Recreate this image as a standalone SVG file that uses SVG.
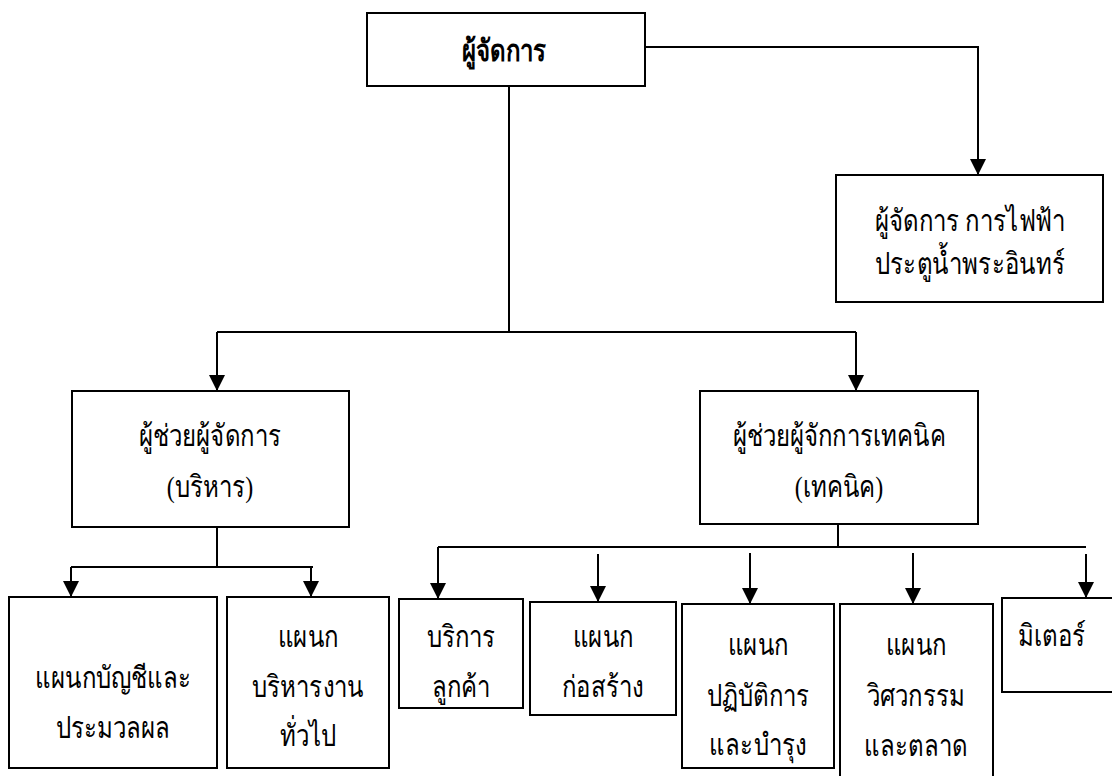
<svg xmlns="http://www.w3.org/2000/svg" width="1112" height="776" viewBox="0 0 1112 776">
<style>
.box{fill:#fff;stroke:#000;stroke-width:2}
.ln{fill:none;stroke:#000;stroke-width:2}
text{font-family:'Liberation Serif','DejaVu Serif',serif;font-size:24px;fill:#000;text-anchor:middle}
.b{font-weight:bold}
</style>
<defs>
<marker id="arr" markerUnits="userSpaceOnUse" markerWidth="16" markerHeight="16" refX="16" refY="8" orient="auto" viewBox="0 0 16 16">
<path d="M0,0 L16,8 L0,16 Z" fill="#000"/>
</marker>
</defs>
<rect width="1112" height="776" fill="#fff"/>
<g id="connectors">
<path class="ln" d="M645,47 H978 V175" marker-end="url(#arr)"/>
<path class="ln" d="M509,86 V332"/>
<path class="ln" d="M217,332 H856"/>
<path class="ln" d="M217,332 V391" marker-end="url(#arr)"/>
<path class="ln" d="M856,332 V391" marker-end="url(#arr)"/>
<path class="ln" d="M217,527 V567"/>
<path class="ln" d="M71,567 H313"/>
<path class="ln" d="M71,567 V597" marker-end="url(#arr)"/>
<path class="ln" d="M311,567 V597" marker-end="url(#arr)"/>
<path class="ln" d="M838,524 V547"/>
<path class="ln" d="M438,547 H1086"/>
<path class="ln" d="M438,547 V599" marker-end="url(#arr)"/>
<path class="ln" d="M598,554 V602" marker-end="url(#arr)"/>
<path class="ln" d="M750,553 V604" marker-end="url(#arr)"/>
<path class="ln" d="M913,553 V604" marker-end="url(#arr)"/>
<path class="ln" d="M1086,554 V598" marker-end="url(#arr)"/>
</g>
<g id="n-manager"><rect class="box" x="367" y="13" width="278" height="73"/><text class="b" transform="translate(504,61) scale(1,1.25)">ผู้จัดการ</text></g>
<g id="n-pea"><rect class="box" x="836" y="175" width="267" height="127"/><text transform="translate(970,231) scale(1,1.25)">ผู้จัดการ การไฟฟ้า</text><text transform="translate(970,274) scale(1,1.25)">ประตูน้ำพระอินทร์</text></g>
<g id="n-admin"><rect class="box" x="72" y="391" width="277" height="136"/><text transform="translate(210,446) scale(1,1.25)">ผู้ช่วยผู้จัดการ</text><text transform="translate(210,497) scale(1,1.25)">(บริหาร)</text></g>
<g id="n-tech"><rect class="box" x="700" y="391" width="278" height="133"/><text transform="translate(839,446) scale(1,1.25)">ผู้ช่วยผู้จักการเทคนิค</text><text transform="translate(839,497) scale(1,1.25)">(เทคนิค)</text></g>
<g id="n-acc"><rect class="box" x="9" y="597" width="208" height="171"/><text transform="translate(113,688) scale(1,1.25)">แผนกบัญชีและ</text><text transform="translate(113,738) scale(1,1.25)">ประมวลผล</text></g>
<g id="n-gen"><rect class="box" x="227" y="597" width="162" height="171"/><text transform="translate(308,647) scale(1,1.25)">แผนก</text><text transform="translate(308,697) scale(1,1.25)">บริหารงาน</text><text transform="translate(308,746) scale(1,1.25)">ทั่วไป</text></g>
<g id="n-cust"><rect class="box" x="399" y="599" width="124" height="109"/><text transform="translate(461,647) scale(1,1.25)">บริการ</text><text transform="translate(461,697) scale(1,1.25)">ลูกค้า</text></g>
<g id="n-cons"><rect class="box" x="530" y="602" width="146" height="113"/><text transform="translate(603,647) scale(1,1.25)">แผนก</text><text transform="translate(603,697) scale(1,1.25)">ก่อสร้าง</text></g>
<g id="n-ops"><rect class="box" x="682" y="604" width="152" height="164"/><text transform="translate(758,655) scale(1,1.25)">แผนก</text><text transform="translate(758,706) scale(1,1.25)">ปฏิบัติการ</text><text transform="translate(758,755) scale(1,1.25)">และบำรุง</text></g>
<g id="n-eng"><rect class="box" x="840" y="604" width="153" height="180"/><text transform="translate(916,655) scale(1,1.25)">แผนก</text><text transform="translate(916,706) scale(1,1.25)">วิศวกรรม</text><text transform="translate(916,756) scale(1,1.25)">และตลาด</text></g>
<g id="n-meter"><rect class="box" x="1002" y="598" width="120" height="94"/><text transform="translate(1052,646) scale(1,1.25)">มิเตอร์</text></g>
</svg>
